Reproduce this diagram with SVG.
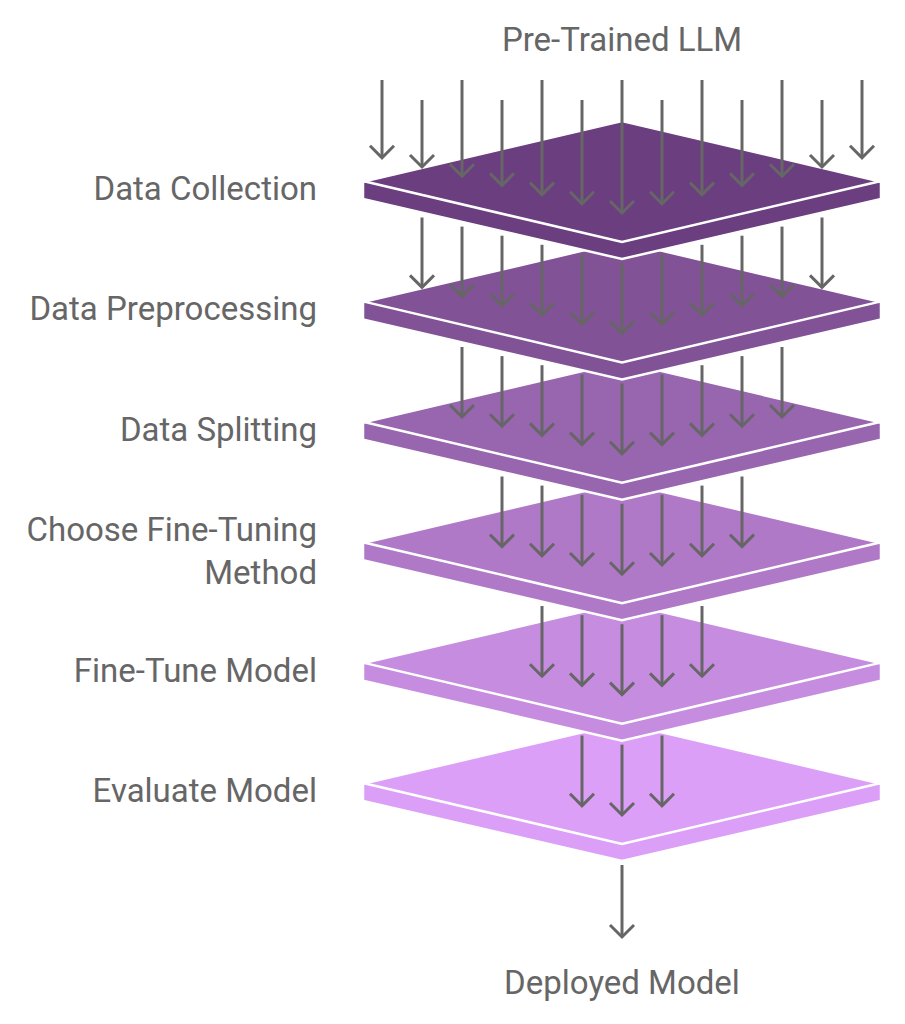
<svg xmlns="http://www.w3.org/2000/svg" width="905" height="1024" viewBox="0 0 905 1024">
<style>
.slab{stroke:#ffffff;stroke-width:2.5;stroke-linejoin:miter}
.edge{fill:none;stroke:#ffffff;stroke-width:2.5}
.lbl{font-family:Roboto,"Liberation Sans",sans-serif;font-size:33px;fill:#666666}
.end{text-anchor:end}
.mid{text-anchor:middle}
.arr line{stroke:#666666;stroke-width:3;marker-end:url(#head)}
</style>
<defs>
<marker id="head" markerUnits="userSpaceOnUse" viewBox="-15 -15 30 30" markerWidth="30" markerHeight="30" refX="0" refY="0" orient="auto" overflow="visible">
<path d="M-12,-12 L0,0 L-12,12" fill="none" stroke="#666666" stroke-width="3" stroke-linejoin="miter"/>
</marker>
</defs>
<rect width="905" height="1024" fill="#ffffff"/>

<g id="layer-6" transform="translate(0,602)">
<polygon class="slab" fill="#DC9FF7" points="366,181 622,121 878,181 881,182 881,199 622,259 363,199 363,182"/>
<polyline class="edge" points="363,181 622,242 881,181"/>
<text class="lbl end" x="317" y="200">Evaluate Model</text>
</g>
<g id="layer-5" transform="translate(0,481.6)">
<polygon class="slab" fill="#C58CDF" points="366,181 622,121 878,181 881,182 881,199 622,259 363,199 363,182"/>
<polyline class="edge" points="363,181 622,242 881,181"/>
<text class="lbl end" x="317" y="200">Fine-Tune Model</text>
</g>
<g id="layer-4" transform="translate(0,361.2)">
<polygon class="slab" fill="#AF79C7" points="366,181 622,121 878,181 881,182 881,199 622,259 363,199 363,182"/>
<polyline class="edge" points="363,181 622,242 881,181"/>
<text class="lbl end" x="317" y="180">Choose Fine-Tuning</text>
<text class="lbl end" x="317" y="222.5">Method</text>
</g>
<g id="layer-3" transform="translate(0,240.8)">
<polygon class="slab" fill="#9865AF" points="366,181 622,121 878,181 881,182 881,199 622,259 363,199 363,182"/>
<polyline class="edge" points="363,181 622,242 881,181"/>
<text class="lbl end" x="317" y="200">Data Splitting</text>
</g>
<g id="layer-2" transform="translate(0,120.4)">
<polygon class="slab" fill="#825297" points="366,181 622,121 878,181 881,182 881,199 622,259 363,199 363,182"/>
<polyline class="edge" points="363,181 622,242 881,181"/>
<text class="lbl end" x="317" y="200">Data Preprocessing</text>
</g>
<g id="layer-1">
<polygon class="slab" fill="#6B3F7F" points="366,181 622,121 878,181 881,182 881,199 622,259 363,199 363,182"/>
<polyline class="edge" points="363,181 622,242 881,181"/>
<text class="lbl end" x="317" y="200">Data Collection</text>
</g>

<g id="input">
<text class="lbl mid" x="622" y="51">Pre-Trained LLM</text>
</g>
<g id="output">
<text class="lbl mid" x="622" y="994">Deployed Model</text>
</g>

<g id="connectors" class="arr">
<line x1="382" y1="80" x2="382" y2="157.8"/>
<line x1="422" y1="100" x2="422" y2="167"/>
<line x1="462" y1="80" x2="462" y2="176.2"/>
<line x1="502" y1="100" x2="502" y2="185.4"/>
<line x1="542" y1="80" x2="542" y2="194.6"/>
<line x1="582" y1="100" x2="582" y2="203.8"/>
<line x1="622" y1="80" x2="622" y2="213"/>
<line x1="662" y1="100" x2="662" y2="203.8"/>
<line x1="702" y1="80" x2="702" y2="194.6"/>
<line x1="742" y1="100" x2="742" y2="185.4"/>
<line x1="782" y1="80" x2="782" y2="176.2"/>
<line x1="822" y1="100" x2="822" y2="167"/>
<line x1="862" y1="80" x2="862" y2="157.8"/>

<line x1="422" y1="217.5" x2="422" y2="287.4"/>
<line x1="462" y1="226.6" x2="462" y2="296.6"/>
<line x1="502" y1="235.7" x2="502" y2="305.8"/>
<line x1="542" y1="244.8" x2="542" y2="315"/>
<line x1="582" y1="253.9" x2="582" y2="324.2"/>
<line x1="622" y1="263" x2="622" y2="333.4"/>
<line x1="662" y1="253.9" x2="662" y2="324.2"/>
<line x1="702" y1="244.8" x2="702" y2="315"/>
<line x1="742" y1="235.7" x2="742" y2="305.8"/>
<line x1="782" y1="226.6" x2="782" y2="296.6"/>
<line x1="822" y1="217.5" x2="822" y2="287.4"/>

<line x1="462" y1="347" x2="462" y2="417"/>
<line x1="502" y1="356.1" x2="502" y2="426.2"/>
<line x1="542" y1="365.2" x2="542" y2="435.4"/>
<line x1="582" y1="374.3" x2="582" y2="444.6"/>
<line x1="622" y1="383.4" x2="622" y2="453.8"/>
<line x1="662" y1="374.3" x2="662" y2="444.6"/>
<line x1="702" y1="365.2" x2="702" y2="435.4"/>
<line x1="742" y1="356.1" x2="742" y2="426.2"/>
<line x1="782" y1="347" x2="782" y2="417"/>

<line x1="502" y1="476.5" x2="502" y2="546.6"/>
<line x1="542" y1="485.6" x2="542" y2="555.8"/>
<line x1="582" y1="494.7" x2="582" y2="565"/>
<line x1="622" y1="503.8" x2="622" y2="574.2"/>
<line x1="662" y1="494.7" x2="662" y2="565"/>
<line x1="702" y1="485.6" x2="702" y2="555.8"/>
<line x1="742" y1="476.5" x2="742" y2="546.6"/>

<line x1="542" y1="606" x2="542" y2="676.2"/>
<line x1="582" y1="615.1" x2="582" y2="685.4"/>
<line x1="622" y1="624.2" x2="622" y2="694.6"/>
<line x1="662" y1="615.1" x2="662" y2="685.4"/>
<line x1="702" y1="606" x2="702" y2="676.2"/>

<line x1="582" y1="735.5" x2="582" y2="805.8"/>
<line x1="622" y1="744.6" x2="622" y2="815"/>
<line x1="662" y1="735.5" x2="662" y2="805.8"/>

<line x1="622" y1="865" x2="622" y2="937"/>
</g>
</svg>
